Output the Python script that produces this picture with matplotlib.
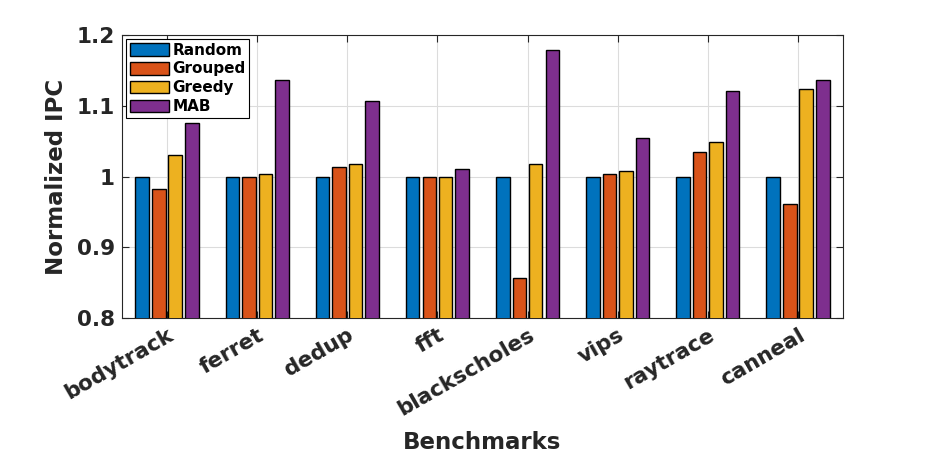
import numpy as np
import matplotlib
matplotlib.use("Agg")
import matplotlib.pyplot as plt

benchmarks = ["bodytrack", "ferret", "dedup", "fft", "blackscholes", "vips", "raytrace", "canneal"]
random_ipc = [1.0, 1.0, 1.0, 1.0, 1.0, 1.0, 1.0, 1.0]
grouped_ipc = [0.983, 0.999, 1.013, 1.0, 0.856, 1.004, 1.035, 0.961]
greedy_ipc = [1.030, 1.004, 1.018, 1.0, 1.018, 1.008, 1.049, 1.124]
mab_ipc = [1.075, 1.137, 1.107, 1.010, 1.179, 1.055, 1.121, 1.137]
series_names = ["Random", "Grouped", "Greedy", "MAB"]
yticks = [0.8, 0.9, 1.0, 1.1, 1.2]
ytick_labels = ["0.8", "0.9", "1", "1.1", "1.2"]

colors = ["#0072BD", "#D95319", "#EDB120", "#7E2F8E"]
text_col = "#262626"

plt.rcParams["font.family"] = "DejaVu Sans"
plt.rcParams["font.weight"] = "bold"

fig = plt.figure(figsize=(9.31, 4.55), dpi=100)
ax = fig.add_axes([0.131, 0.301, 0.7745, 0.622])

x = np.arange(1, len(benchmarks) + 1)
offsets = [-0.275, -0.09, 0.09, 0.275]
width = 0.15
all_series = [random_ipc, grouped_ipc, greedy_ipc, mab_ipc]
for vals, off, col, name in zip(all_series, offsets, colors, series_names):
    ax.bar(x + off, vals, width, color=col, edgecolor="black", linewidth=1.0,
           label=name, zorder=3)

ax.set_xlim(0.5, len(benchmarks) + 0.5)
ax.set_ylim(0.8, 1.2)
ax.set_yticks(yticks)
ax.set_yticklabels(ytick_labels)
ax.set_xticks(x)
ax.set_xticklabels(benchmarks, rotation=30, ha="right", rotation_mode="anchor")

ax.grid(True, color="#dcdcdc", linewidth=0.8, zorder=0)
ax.set_axisbelow(True)
ax.tick_params(direction="in", length=5, width=0.8, top=True, right=True,
               labelsize=15.5, colors=text_col)
ax.tick_params(axis="y", pad=5)
ax.tick_params(axis="x", pad=5)
for lab in ax.get_xticklabels() + ax.get_yticklabels():
    lab.set_fontweight("bold")
for sp in ax.spines.values():
    sp.set_color(text_col)
    sp.set_linewidth(0.8)

ax.set_ylabel("Normalized IPC", fontsize=16.5, fontweight="bold", color=text_col, labelpad=6)
ax.set_xlabel("Benchmarks", fontsize=16.5, fontweight="bold", color=text_col, labelpad=8)

leg = ax.legend(loc="upper left", fontsize=11, frameon=True, fancybox=False,
                edgecolor="black", framealpha=1, borderaxespad=0.25,
                handlelength=2.6, handleheight=0.9, handletextpad=0.2,
                labelspacing=0.25, borderpad=0.25)
leg.get_frame().set_linewidth(0.8)
for t in leg.get_texts():
    t.set_fontweight("bold")

fig.savefig("out.png", dpi=100)
